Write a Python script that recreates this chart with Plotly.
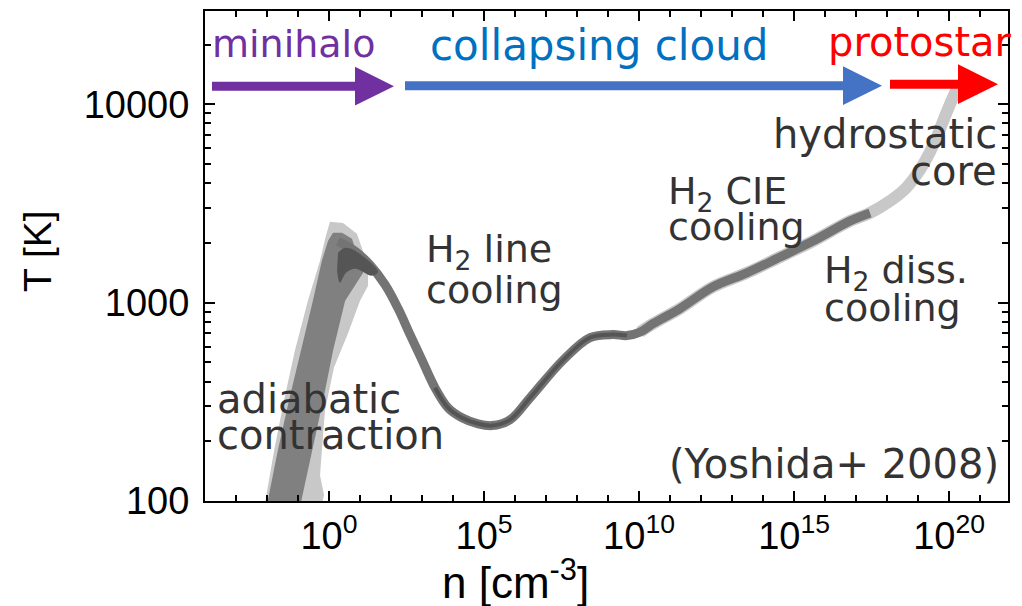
import plotly.graph_objects as go

# ---------------- data ----------------
# rising "adiabatic contraction" branch: outer (light) contour outline, log10 n and T[K]
rise_outer_logn = [-2.16, -1.77, -1.45, -1.10, -0.68, -0.29, -0.10, 0.03, 0.45, 0.90,
                   1.26, 1.26, 1.00, 0.61, 0.16, -0.13, -0.23, -0.29, -0.16, -0.35]
rise_outer_T = [80, 180, 322, 574, 1023, 1626, 2170, 2553, 2523, 2223,
                1535, 1217, 1023, 698, 471, 286, 180, 135, 107, 80]
# inner (medium) contour outline
rise_inner_logn = [-2.10, -1.65, -1.29, -0.90, -0.52, -0.23, -0.03, 0.13, 0.42, 0.74,
                   1.10, 0.52, 0.13, -0.19, -0.55, -1.03]
rise_inner_T = [80, 180, 322, 574, 1023, 1626, 2050, 2250, 2250, 2100,
                1416, 1023, 574, 322, 180, 80]
# densest (dark) contour at the temperature peak
peak_core_logn = [0.29, 0.52, 0.84, 1.58, 1.39, 0.84, 0.55, 0.35, 0.26]
peak_core_T = [1782, 1888, 1824, 1432, 1368, 1483, 1416, 1262, 1449]
# main collapse track after the peak
track_logn = [0.29, 0.84, 1.32, 1.81, 2.23, 2.61, 3.00, 3.42, 3.84, 4.29, 4.81, 5.26,
              5.84, 6.48, 7.55, 8.42, 9.16, 9.61, 10.03, 10.45, 11.32, 12.39, 13.48,
              14.55, 15.61, 16.81, 17.45, 18.10, 18.58, 18.90, 19.23, 19.55, 19.87,
              20.10, 20.29]
track_T = [2040, 1820, 1550, 1230, 933, 692, 513, 372, 295, 263, 245, 240,
           257, 331, 513, 667, 690, 682, 710, 783, 933, 1202, 1413,
           1698, 2042, 2582, 2833, 3258, 3741, 4295, 5174, 6514, 8702,
           10600, 12330]

x_tick_vals = [1e0, 1e5, 1e10, 1e15, 1e20]
x_tick_text = ["10<sup>0</sup>", "10<sup>5</sup>", "10<sup>10</sup>", "10<sup>15</sup>", "10<sup>20</sup>"]
y_tick_vals = [100, 1000, 10000]
y_tick_text = ["100", "1000", "10000"]

LIGHT = "#c8c8c8"
MED = "#747474"
DARK = "#555555"
TXT = "#333333"

XR = [-4, 21.9]
YR = [2, 4.47]


def pw(vals):
    return [10.0 ** v for v in vals]


fig = go.Figure()
fig.add_trace(go.Scatter(x=pw(rise_outer_logn), y=rise_outer_T, fill="toself", mode="lines",
                         line=dict(width=0, color=LIGHT), fillcolor=LIGHT, hoverinfo="skip"))
fig.add_trace(go.Scatter(x=pw(track_logn[18:]), y=track_T[18:], mode="lines",
                         line=dict(width=12, color=LIGHT, shape="spline"), hoverinfo="skip"))
fig.add_trace(go.Scatter(x=pw(rise_inner_logn), y=rise_inner_T, fill="toself", mode="lines",
                         line=dict(width=0, color="#808080"), fillcolor="#808080", hoverinfo="skip"))
fig.add_trace(go.Scatter(x=pw(track_logn[:27]), y=track_T[:27], mode="lines",
                         line=dict(width=9, color=MED, shape="spline"), hoverinfo="skip"))
fig.add_trace(go.Scatter(x=pw(peak_core_logn), y=peak_core_T, fill="toself", mode="lines",
                         line=dict(width=0, color=DARK, shape="spline"), fillcolor=DARK, hoverinfo="skip"))
fig.add_trace(go.Scatter(x=pw(track_logn[7:18]), y=track_T[7:18], mode="lines",
                         line=dict(width=4, color=DARK, shape="spline"), hoverinfo="skip"))
# empty trace that carries the overlaid minor-tick axes
fig.add_trace(go.Scatter(x=[], y=[], xaxis="x2", yaxis="y2", hoverinfo="skip"))

# plot area in pixels (for placing annotations/arrows in paper coordinates)
X0, X1, Y0, Y1 = 205, 1008, 9, 501


def px(x, y):
    return (x - X0) / (X1 - X0), (Y1 - y) / (Y1 - Y0)


shapes = []


def arrow(x_start, x_base, x_tip, yc, half_head, color, shaft=9):
    a = px(x_start, yc)
    b = px(x_base + 2, yc)
    shapes.append(dict(type="line", xref="paper", yref="paper", x0=a[0], y0=a[1], x1=b[0], y1=b[1],
                       line=dict(color=color, width=shaft), layer="above"))
    p1 = px(x_base, yc - half_head)
    p2 = px(x_tip, yc)
    p3 = px(x_base, yc + half_head)
    shapes.append(dict(type="path", xref="paper", yref="paper",
                       path=f"M {p1[0]},{p1[1]} L {p2[0]},{p2[1]} L {p3[0]},{p3[1]} Z",
                       fillcolor=color, line=dict(width=0), layer="above"))


arrow(212, 355, 394, 84.5, 19.5, "#7030a0")
arrow(405, 843, 882, 84, 19.5, "#4472c4")
arrow(890, 958, 998, 82.5, 20, "#ff0000")

annotations = []


def label(text, x, y, color=TXT, size=38, anchor="left"):
    p = px(x, y)
    annotations.append(dict(text=text, x=p[0], y=p[1], xref="paper", yref="paper",
                            xanchor=anchor, yanchor="middle", showarrow=False,
                            font=dict(family="DejaVu Sans", size=size, color=color)))


label("minihalo", 210, 42, "#7030a0", 38)
label("collapsing cloud", 428, 44, "#0070c0", 42)
label("protostar", 826, 40, "#ff0000", 40)
label("hydrostatic", 999, 132, size=40, anchor="right")
label("core", 999, 170, size=40, anchor="right")
label("H<sub>2</sub> CIE", 666, 192)
label("cooling", 666, 226)
label("H<sub>2</sub> line", 424, 250)
label("cooling", 424, 289)
label("H<sub>2</sub> diss.", 822, 272)
label("cooling", 822, 307)
label("adiabatic", 215, 399, size=40)
label("contraction", 215, 435, size=40)
label("(Yoshida+ 2008)", 667, 464, size=40)

# axis titles
pt = px(37, 250)
annotations.append(dict(text="T [K]", x=pt[0], y=pt[1], xref="paper", yref="paper",
                        textangle=-90, showarrow=False, xanchor="center", yanchor="middle",
                        font=dict(family="Liberation Sans", size=39, color="black")))
pn = px(515, 580)
annotations.append(dict(text="n [cm<sup>-3</sup>]", x=pn[0], y=pn[1], xref="paper", yref="paper",
                        showarrow=False, xanchor="center", yanchor="middle",
                        font=dict(family="Liberation Sans", size=44, color="black")))

axis_common = dict(ticks="inside", tickcolor="black", showline=True, linewidth=2,
                   linecolor="black", mirror="allticks", showgrid=False, zeroline=False)

fig.update_layout(
    width=1022, height=606,
    margin=dict(l=X0, r=1022 - X1, t=Y0, b=606 - Y1),
    paper_bgcolor="white", plot_bgcolor="white",
    showlegend=False,
    shapes=shapes, annotations=annotations,
    xaxis=dict(type="log", range=XR, tickmode="array", tickvals=x_tick_vals, ticktext=x_tick_text,
               ticklen=10, tickwidth=2,
               tickfont=dict(family="Liberation Sans", size=38, color="black"), **axis_common),
    yaxis=dict(type="log", range=YR, tickmode="array", tickvals=y_tick_vals, ticktext=y_tick_text,
               ticklen=10, tickwidth=2, ticklabelstandoff=6,
               tickfont=dict(family="Liberation Sans", size=38, color="black"), **axis_common),
    xaxis2=dict(type="log", range=XR, overlaying="x", anchor="y2", side="bottom",
                tickmode="array", tickvals=[10.0 ** k for k in range(-4, 22)],
                ticklen=6, tickwidth=1.5, showticklabels=False, **axis_common),
    yaxis2=dict(type="log", range=YR, overlaying="y", anchor="x2", side="left",
                tickmode="array",
                tickvals=[float(m * 10 ** e) for e in (2, 3) for m in range(2, 10)] + [20000.0, 30000.0],
                ticklen=6, tickwidth=1.5, showticklabels=False, **axis_common),
)

fig.write_html("out.html")
